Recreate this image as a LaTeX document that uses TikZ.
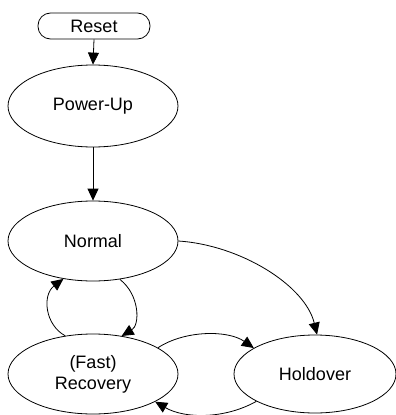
\documentclass[tikz,border=0pt]{standalone}
\usepackage{fontspec}
\setmainfont{Liberation Sans}
\usetikzlibrary{arrows.meta,shapes.geometric}
\begin{document}
\begin{tikzpicture}[x=1pt,y=-1pt,
  every node/.style={font=\fontsize{18}{21}\selectfont},
  state/.style={draw,ellipse,line width=0.8pt,inner sep=0pt,align=center},
  startbox/.style={draw,rectangle,rounded corners=12.5pt,line width=0.8pt,inner sep=0pt,minimum width=112pt,minimum height=26pt},
  edge/.style={line width=0.8pt,-{Triangle[length=12pt,width=11pt]}}]
\useasboundingbox (0,0) rectangle (396,415);
\node[startbox] (reset) at (94,26) {Reset};
\node[state,minimum width=170pt,minimum height=82pt] (power) at (93,106) {Power-Up};
\node[state,minimum width=170pt,minimum height=80pt] (normal) at (93,241) {Normal};
\node[state,minimum width=170pt,minimum height=80pt] (recovery) at (93,374) {(Fast)\\Recovery};
\node[state,minimum width=162pt,minimum height=78pt] (holdover) at (315,374) {Holdover};
\draw[edge] (reset.south) -- (power.north);
\draw[edge] (power.south) -- (normal.north);
\draw[edge] (normal.east) .. controls (240,245) and (305,285) .. (holdover.87);
\draw[edge] (normal.-55) .. controls (140,295) and (140,325) .. (recovery.53);
\draw[edge] (recovery.126) .. controls (45,325) and (42,295) .. (normal.-128);
\draw[edge] (recovery.22) .. controls (185,330) and (228,330) .. (holdover.157);
\draw[edge] (holdover.-155) .. controls (225,419) and (185,419) .. (recovery.-24);
\end{tikzpicture}
\end{document}
